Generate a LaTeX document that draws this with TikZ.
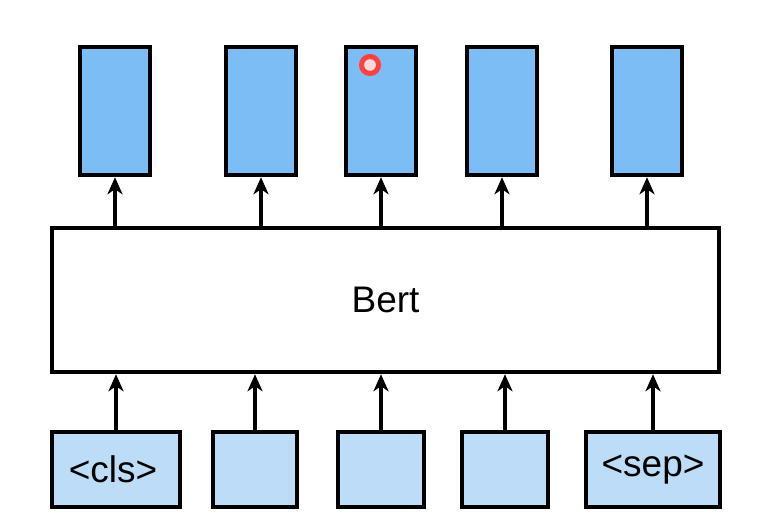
\documentclass[tikz,border=0pt]{standalone}
\usepackage{fontspec}
\setmainfont{Liberation Sans}
\usetikzlibrary{arrows.meta,positioning}
\definecolor{outblue}{HTML}{7BBDF4}
\definecolor{inblue}{HTML}{BCDCF7}

\begin{document}
\begin{tikzpicture}[
				x=1pt,y=1pt,
				box/.style={draw,rectangle,line width=4.5pt,inner sep=0pt,font=\fontsize{37}{40}\selectfont},
				outbox/.style={box,fill=outblue,minimum width=70pt,minimum height=128pt},
				inbox/.style={box,fill=inblue,minimum height=75pt},
				uparrow/.style={-{Stealth[length=17pt,width=15pt,inset=5pt]},line width=4.5pt}
				]
				\useasboundingbox (0,0) rectangle (762,524);
				
				% Bert centrale
				\node[box,fill=white,minimum width=667pt,minimum height=144pt] (bert) at (385.5,224) {Bert};
				
				% uscite
				\node[outbox] (o1) at (115,413) {};
				\node[outbox] (o2) at (261,413) {};
				\node[outbox] (o3) at (381,413) {};
				\node[outbox] (o4) at (502,413) {};
				\node[outbox] (o5) at (647,413) {};
				
				% ingressi
				\node[inbox,minimum width=128pt] (i1) at (116,54.5) {\kern-6pt<cls>};
				\node[inbox,minimum width=84pt] (i2) at (255,54.5) {};
				\node[inbox,minimum width=86pt] (i3) at (381,54.5) {};
				\node[inbox,minimum width=86pt] (i4) at (505,54.5) {};
				\node[inbox,minimum width=134pt] (i5) at (653,54.5) {<sep>};
				
				% frecce ingressi -> Bert
				\foreach \i in {1,...,5}
					\draw[uparrow] (i\i.north) -- (i\i.north |- bert.south);
				
				% frecce Bert -> uscite
				\foreach \i in {1,...,5}
					\draw[uparrow] (o\i.south |- bert.north) -- (o\i.south);
				
				% puntatore
				\node[circle,draw=red!75,fill=white!85!red,line width=5pt,minimum size=17pt,inner sep=0pt] (pointer) at (370,459) {};
				
			\end{tikzpicture}
\end{document}
